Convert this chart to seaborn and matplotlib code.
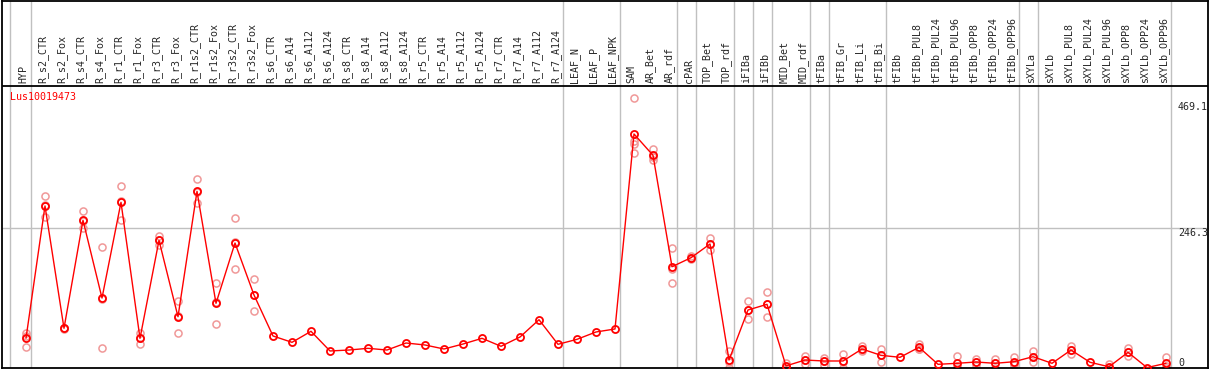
import numpy as np
import pandas as pd
import matplotlib
matplotlib.use("Agg")
import matplotlib.pyplot as plt
import seaborn as sns

# sample names, in plot order
samples = [
    "HYP", "R_s2_CTR", "R_s2_Fox", "R_s4_CTR", "R_s4_Fox", "R_r1_CTR", "R_r1_Fox",
    "R_r3_CTR", "R_r3_Fox", "R_r1s2_CTR", "R_r1s2_Fox", "R_r3s2_CTR", "R_r3s2_Fox",
    "R_s6_CTR", "R_s6_A14", "R_s6_A112", "R_s6_A124", "R_s8_CTR", "R_s8_A14",
    "R_s8_A112", "R_s8_A124", "R_r5_CTR", "R_r5_A14", "R_r5_A112", "R_r5_A124",
    "R_r7_CTR", "R_r7_A14", "R_r7_A112", "R_r7_A124", "LEAF_N", "LEAF_P", "LEAF_NPK",
    "SAM", "AR_Bet", "AR_rdf", "cPAR", "TOP_Bet", "TOP_rdf", "iFIBa", "iFIBb",
    "MID_Bet", "MID_rdf", "tFIBa", "tFIB_Gr", "tFIB_Li", "tFIB_Bi", "tFIBb",
    "tFIBb_PUL8", "tFIBb_PUL24", "tFIBb_PUL96", "tFIBb_OPP8", "tFIBb_OPP24",
    "tFIBb_OPP96", "sXYLa", "sXYLb", "sXYLb_PUL8", "sXYLb_PUL24", "sXYLb_PUL96",
    "sXYLb_OPP8", "sXYLb_OPP24", "sXYLb_OPP96",
]

# mean expression per sample
means = [
    51.8, 285.8, 69.5, 260.5, 123.0, 292.3, 51.8, 225.0, 90.0, 311.7, 113.7, 220.3, 128.4,
    55.9, 44.7, 64.2, 29.4, 31.1, 34.1, 31.1, 43.5, 40.0, 32.9, 41.7, 51.8,
    37.7, 54.1, 84.7, 41.2, 50.0, 63.0, 68.3,
    413.1, 375.4, 178.4, 194.3, 218.6, 13.4, 101.9, 111.9,
    3.0, 13.4, 11.7, 11.7, 32.9, 21.7, 18.2,
    35.9, 5.8, 7.6, 9.9, 7.6, 10.4, 19.3, 7.6,
    31.1, 9.4, 1.5, 27.0, 0.0, 7.6,
]

# individual replicates (long form)
rep_samples = (
    ["HYP"] * 3 + ["R_s2_CTR"] * 3 + ["R_s2_Fox"] * 3 + ["R_s4_CTR"] * 3 + ["R_s4_Fox"] * 3
    + ["R_r1_CTR"] * 3 + ["R_r1_Fox"] * 3 + ["R_r3_CTR"] * 3 + ["R_r3_Fox"] * 3
    + ["R_r1s2_CTR"] * 3 + ["R_r1s2_Fox"] * 3 + ["R_r3s2_CTR"] * 3 + ["R_r3s2_Fox"] * 3
    + ["SAM"] * 4 + ["AR_Bet"] * 3 + ["AR_rdf"] * 3 + ["cPAR"] * 3 + ["TOP_Bet"] * 3
    + ["TOP_rdf"] * 3 + ["iFIBa"] * 3 + ["iFIBb"] * 3 + ["MID_Bet"] * 3 + ["MID_rdf"] * 3
    + ["tFIBa"] * 3 + ["tFIB_Gr"] * 3 + ["tFIB_Li"] * 3 + ["tFIB_Bi"] * 3
    + ["tFIBb_PUL8"] * 3 + ["tFIBb_PUL96"] * 3 + ["tFIBb_OPP8"] * 3 + ["tFIBb_OPP24"] * 3
    + ["tFIBb_OPP96"] * 3 + ["sXYLa"] * 3 + ["sXYLb_PUL8"] * 3 + ["sXYLb_PUL96"] * 3
    + ["sXYLb_OPP8"] * 3 + ["sXYLb_OPP96"] * 3
)
rep_values = [
    61.7, 56.0, 36.4, 303.4, 288.0, 265.8, 70.5, 68.5, 69.5, 276.4, 258.8, 246.3,
    212.7, 122.2, 34.1, 321.1, 294.8, 261.0, 60.6, 53.1, 41.7, 233.2, 225.0, 216.8,
    117.8, 91.6, 60.6, 333.5, 311.0, 290.5, 149.0, 115.5, 76.6, 264.0, 223.0, 173.8,
    156.7, 128.9, 99.6,
    476.2, 400.7, 395.4, 379.0, 386.6, 372.5, 367.1, 211.0, 175.0, 149.0,
    197.0, 194.0, 192.0, 228.6, 219.0, 208.0, 29.9, 10.3, 0.0, 117.8, 102.0, 85.9,
    133.7, 112.0, 90.0, 8.7, 0.5, 0.0, 20.5, 13.4, 6.4,
    17.5, 11.7, 4.6, 24.6, 10.5, 0.0, 38.2, 31.1, 29.4, 32.9, 22.8, 9.4,
    41.7, 33.6, 32.4, 20.5, 2.3, 0.0, 14.7, 10.4, 4.6, 14.7, 8.0, 0.0,
    18.2, 8.4, 4.6, 28.8, 18.7, 10.4, 38.2, 31.1, 24.0, 5.8, 0.0, 0.0,
    34.1, 27.0, 20.5, 19.3, 3.5, 0.0,
]

# last sample of each tissue group (vertical separators)
group_ends = ["HYP", "R_r7_A124", "LEAF_NPK", "AR_rdf", "cPAR", "TOP_rdf", "iFIBa",
              "iFIBb", "MID_rdf", "tFIBa", "tFIB_Bi", "tFIBb_OPP96", "sXYLa", "sXYLb_OPP96"]

gene = "Lus10019473"
y_ticks = [469.1, 246.3]

pos = {s: i for i, s in enumerate(samples)}
df_mean = pd.DataFrame({"x": [pos[s] for s in samples], "value": means})
df_rep = pd.DataFrame({"x": [pos[s] for s in rep_samples], "value": rep_values})

sns.set_style("white")
plt.rcParams["font.family"] = ["DejaVu Sans Mono"]

fig = plt.figure(figsize=(12.09, 3.70), dpi=100)
ax = fig.add_axes([2 / 1209, 2 / 370, 1206 / 1209, 367 / 370])

# separators and gridline
ax.axvline(-0.84, color="#c0c0c0", lw=1, zorder=0)
for g in group_ends:
    ax.axvline(pos[g] + 0.25, color="#c0c0c0", lw=1, zorder=0)
ax.axhline(y_ticks[1], color="#c0c0c0", lw=1, zorder=0)

# replicates, then means
sns.lineplot(data=df_rep, x="x", y="value", estimator=None, linestyle="", marker="o",
             markersize=5.1, markerfacecolor="none", markeredgecolor="#f09898",
             markeredgewidth=1.1, color="#f09898", ax=ax, zorder=2)
sns.lineplot(data=df_mean, x="x", y="value", color="red", linewidth=1, marker="o",
             markersize=5.1, markerfacecolor="none", markeredgecolor="red",
             markeredgewidth=1.3, ax=ax, zorder=3)

ax.set_xlim(-1.263, 62.21)
ax.set_ylim(-0.7, 648.3)

# header
ax.axhline(498.5, color="black", lw=1.3, zorder=4)
for s in samples:
    ax.text(pos[s] - 0.12, 503.3, s, rotation=90, ha="center", va="bottom", fontsize=7.2)

ax.text(-0.85, 478.5, gene, color="red", ha="left", va="center", fontsize=7.2)

for t in y_ticks:
    ax.text(60.63, t, f"{t:.1f}", ha="left", va="top", fontsize=7.2)
ax.text(60.63, 0, "0", ha="left", va="bottom", fontsize=7.2)

ax.set_xticks([])
ax.set_yticks([])
ax.set_xlabel("")
ax.set_ylabel("")
for sp in ax.spines.values():
    sp.set_color("black")
    sp.set_linewidth(1.3)

fig.savefig("out.png", dpi=100)
